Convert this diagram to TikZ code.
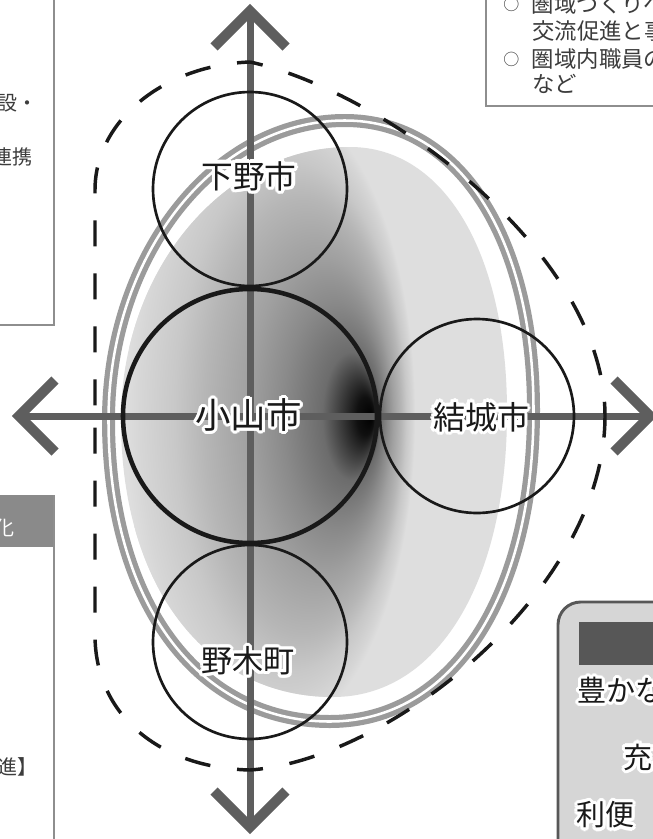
\documentclass[tikz,border=0pt]{standalone}
\usepackage{fontspec}
\newfontfamily\jp{Noto Sans CJK JP}
\definecolor{axisgray}{HTML}{5E5E5E}
\definecolor{ringgray}{HTML}{9B9B9B}
\definecolor{fillgray}{HTML}{DEDEDE}
\definecolor{txtgray}{HTML}{3C3C3C}
\definecolor{boxline}{HTML}{8E8E8E}
\definecolor{hdrgray}{HTML}{8A8A8A}
\definecolor{panelgray}{HTML}{D6D6D6}
\definecolor{bargray}{HTML}{575757}
\definecolor{shA}{HTML}{101010}
\definecolor{shB}{HTML}{6C6C6C}
\definecolor{shC}{HTML}{8A8A8A}
\definecolor{shD}{HTML}{A0A0A0}
\definecolor{shE}{HTML}{B6B6B6}
\definecolor{shF}{HTML}{C8C8C8}
\definecolor{shG}{HTML}{D6D6D6}
\pgfdeclareradialshading{glow}{\pgfpoint{17.5bp}{0bp}}{color(0bp)=(black); color(1.5bp)=(shA); color(5bp)=(shB); color(9bp)=(shC); color(12.5bp)=(shD); color(17bp)=(shE); color(20bp)=(shF); color(23.5bp)=(shG); color(25bp)=(fillgray)}
\tikzset{
  axisline/.style={draw=axisgray, line width=5.25pt},
  chev/.style={draw=axisgray, line width=7.5pt, line join=miter},
  ringline/.style={draw=ringgray, line width=9.75pt},
  ringgap/.style={draw=white, line width=1.9pt},
  dashline/.style={draw=black!90, line width=2.6pt, dash pattern=on 19.5pt off 20.25pt, dash phase=9.75pt},
  city/.style={draw=black!90, line width=2pt},
  maincity/.style={draw=black!90, line width=3.4pt},
  lbl/.style={inner sep=0pt, text=black!90},
  side/.style={font={\jp\fontsize{16.8pt}{20pt}\selectfont}, text=txtgray, inner sep=0pt, anchor=west},
  lside/.style={font={\jp\fontsize{15pt}{18pt}\selectfont}, text=txtgray, inner sep=0pt, anchor=west},
}
\newcommand\halonode[5][center]{%
  \foreach \hA in {0,22.5,...,337.5}{%
    \node[lbl, anchor=#1, font={\jp\fontsize{#4}{#4}\selectfont}, text=white, shift={(\hA:2.4pt)}] at (#3) {#5};
  }%
  \node[lbl, anchor=#1, font={\jp\fontsize{#4}{#4}\selectfont}] (#2) at (#3) {#5};%
}
\begin{document}
\begin{tikzpicture}[x=0.75pt,y=-0.75pt]
\useasboundingbox (0,0) rectangle (653,839);
\clip (0,0) rectangle (653,839);
\fill[white] (0,0) rectangle (653,839);

% inner filled egg with gradient
\fill[fillgray] (350,147) .. controls (444,147) and (507,253) .. (507,412)
  .. controls (507,583) and (437,697) .. (333,697)
  .. controls (206,697) and (121,586) .. (121,420)
  .. controls (121,270) and (224,147) .. cycle;
\begin{scope}
\clip (350,147) .. controls (444,147) and (507,253) .. (507,412)
  .. controls (507,583) and (437,697) .. (333,697)
  .. controls (206,697) and (121,586) .. (121,420)
  .. controls (121,270) and (224,147) .. cycle;
\shade[shading=glow] (270,416) ellipse [x radius=145, y radius=320];
\end{scope}

% double grey ring
\draw[ringline] (345,120.5) .. controls (458,120.5) and (533.5,236) .. (533.5,410)
  .. controls (533.5,597) and (452,721.5) .. (330,721.5)
  .. controls (197,721.5) and (108.5,601) .. (108.5,420)
  .. controls (108.5,255) and (215,120.5) .. cycle;
\draw[ringgap] (345,120.5) .. controls (458,120.5) and (533.5,236) .. (533.5,410)
  .. controls (533.5,597) and (452,721.5) .. (330,721.5)
  .. controls (197,721.5) and (108.5,601) .. (108.5,420)
  .. controls (108.5,255) and (215,120.5) .. cycle;

% axes
\coordinate (aT) at (250,11);
\coordinate (aB) at (250,827);
\coordinate (aL) at (19,416);
\coordinate (aR) at (650,416);
\draw[axisline] (aT) -- (aB);
\draw[axisline] (aL) -- (aR);
\draw[chev] (aT) ++(-36,36) -- (aT) -- ++(36,36);
\draw[chev] (aB) ++(-36,-36) -- (aB) -- ++(36,-36);
\draw[chev] (aL) ++(36,-36) -- (aL) -- ++(36,36);
\draw[chev] (aR) ++(-36,-36) -- (aR) -- ++(-36,36);

% dashed outline
\coordinate (dT) at (250,62);
\coordinate (dR) at (605,416);
\coordinate (dB) at (250,770);
\coordinate (dL) at (95,416);
\draw[dashline] (dT) .. controls (380,90) and (605,250) .. (dR);
\draw[dashline] (dB) .. controls (390,760) and (605,590) .. (dR);
\draw[dashline] (dT) .. controls (165,65) and (95,120) .. (95,190) -- (dL);
\draw[dashline] (dB) .. controls (160,768) and (95,715) .. (95,635) -- (dL);

% circles
\coordinate (cS) at (250,189);
\coordinate (cO) at (250,416);
\coordinate (cY) at (477,416);
\coordinate (cN) at (250,642);
\draw[city] (cS) circle [radius=97];
\draw[city] (cY) circle [radius=97];
\draw[city] (cN) circle [radius=97];
\draw[maincity] (cO) circle [radius=127];

% labels
\coordinate (pS) at (249,176);
\coordinate (pO) at (248.5,415);
\coordinate (pY) at (481,417);
\coordinate (pN) at (248,661);
\halonode{shimotsuke}{pS}{23.8pt}{下野市}
\halonode{oyama}{pO}{26.6pt}{小山市}
\halonode{yuki}{pY}{24pt}{結城市}
\halonode{nogi}{pN}{23.3pt}{野木町}

% top-right box
\draw[draw=boxline, line width=1.5pt] (486,-10) -- (486,106) -- (665,106);
\node[side] (tr1) at (503,4) {\raisebox{1.8pt}{\fontsize{12pt}{12pt}\selectfont ○}\hspace{9.4pt}圏域づくりへ};
\node[side] (tr2) at (532,31) {交流促進と事};
\node[side] (tr3) at (503,59) {\raisebox{1.8pt}{\fontsize{12pt}{12pt}\selectfont ○}\hspace{9.4pt}圏域内職員の};
\node[side] (tr4) at (532,84) {など};

% top-left box
\draw[draw=boxline, line width=1.5pt] (-10,325) -- (54,325) -- (54,-10);
\node[lside] (tl1) at (-3,103) {設・};
\node[lside] (tl2) at (-8,157) {連携};

% bottom-left box
\fill[hdrgray] (-10,495) rectangle (54,547);
\draw[draw=boxline, line width=1.5pt] (54,495) -- (54,850);
\node[lside, text=white, anchor=center] (bl1) at (5,528) {化};
\node[lside] (bl2) at (-3,767) {進】};

% bottom-right panel
\draw[draw=bargray, line width=2.2pt, fill=panelgray, rounded corners=17pt] (558,602) rectangle (690,880);
\fill[bargray] (579,622) rectangle (680,665);
\coordinate (q1) at (577,690);
\coordinate (q2) at (623.5,757);
\coordinate (q3) at (576,815);
\halonode[west]{br1}{q1}{21.75pt}{豊かな}
\halonode[west]{br2}{q2}{21.75pt}{充}
\halonode[west]{br3}{q3}{21.75pt}{利便}
\end{tikzpicture}
\end{document}
